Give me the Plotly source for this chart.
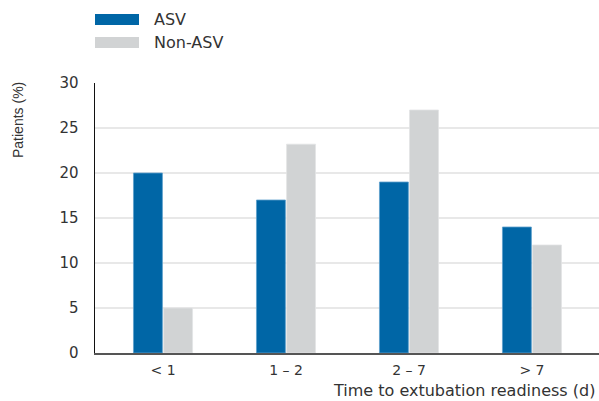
import plotly.graph_objects as go

categories = ["< 1", "1 – 2", "2 – 7", "> 7"]
asv = [20, 17, 19, 14]
non_asv = [5, 23.2, 27, 12]
series_names = ["ASV", "Non-ASV"]
y_ticks = [0, 5, 10, 15, 20, 25, 30]

BLUE = "#0066A6"
GREY = "#D1D3D4"
FONT = "DejaVu Sans"
TXT = "#333333"

W, H = 599, 401
ML, MT, MB, MR = 95, 83, 48, 0
PW, PH = W - ML - MR, H - MT - MB  # 504 x 270

fig = go.Figure()
fig.add_trace(go.Bar(x=categories, y=asv, name=series_names[0],
                     marker=dict(color=BLUE, line=dict(color="#5D9FCB", width=0.8)),
                     showlegend=False))
fig.add_trace(go.Bar(x=categories, y=non_asv, name=series_names[1],
                     marker=dict(color=GREY, line=dict(color="#E2E3E4", width=0.8)),
                     showlegend=False))

# manual legend (pixel offsets relative to plot area top-left)
for i, (name, col) in enumerate(zip(series_names, [BLUE, GREY])):
    top = 1 + (69 - i * 23) / PH
    bot = 1 + (58 - i * 23) / PH
    fig.add_shape(type="rect", xref="paper", yref="paper",
                  x0=0, x1=44 / PW, y0=bot, y1=top,
                  fillcolor=col, line=dict(width=0))
    fig.add_annotation(text=name, xref="paper", yref="paper",
                       x=57 / PW, y=(top + bot) / 2, xanchor="left", yanchor="middle",
                       showarrow=False, font=dict(size=16, color=TXT, family=FONT))

fig.add_annotation(text="Patients (%)", xref="paper", yref="paper",
                   x=-77 / PW, y=1 - 37 / PH, textangle=-90,
                   xanchor="center", yanchor="middle", showarrow=False,
                   font=dict(size=14, color=TXT, family="Liberation Sans"))
fig.add_annotation(text="Time to extubation readiness (d)", xref="paper", yref="paper",
                   x=1 - 2 / PW, y=-37 / PH, xanchor="right", yanchor="middle",
                   showarrow=False, font=dict(size=16, color=TXT, family=FONT))

fig.update_layout(
    width=W, height=H,
    margin=dict(l=ML, r=MR, t=MT, b=MB, autoexpand=False),
    paper_bgcolor="white", plot_bgcolor="white",
    barmode="group", bargap=0.51, bargroupgap=0.04,
    font=dict(family=FONT, size=14, color=TXT),
    xaxis=dict(range=[-0.553, 3.545], showline=True, linecolor="#555", linewidth=1.5,
               ticks="", ticklabelstandoff=4, tickfont=dict(size=14, color=TXT),
               showgrid=False, fixedrange=True),
    yaxis=dict(range=[0, 30], tickvals=y_ticks, showline=True, linecolor="#111",
               linewidth=1.5, showgrid=True, gridcolor="#E8E8E8", gridwidth=1.5,
               ticks="", ticklabelstandoff=12, tickfont=dict(size=15, color=TXT),
               zeroline=False, fixedrange=True),
)

fig.write_html(
    "out.html",
    config={"displayModeBar": False, "staticPlot": True},
    post_script="document.body.style.margin='0';document.body.style.overflow='hidden';",
)
